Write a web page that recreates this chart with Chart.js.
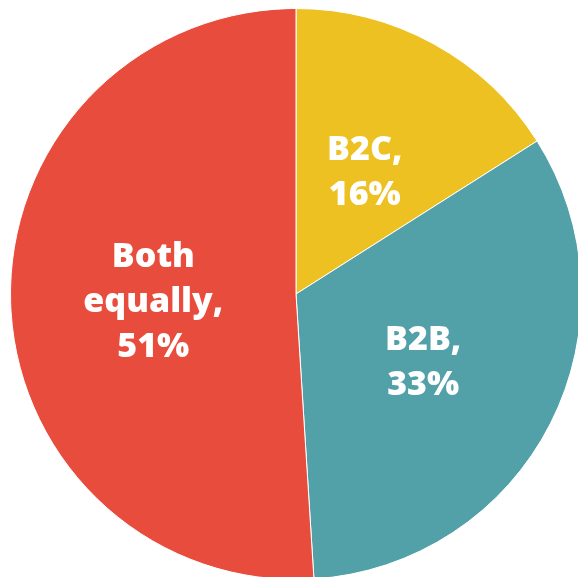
<!DOCTYPE html>
<html>
<head>
<meta charset="utf-8">
<script src="https://cdn.jsdelivr.net/npm/chart.js@4/dist/chart.umd.min.js"></script>
<style>
  html, body { margin: 0; padding: 0; background: #ffffff; overflow: hidden; }
  #wrap { position: absolute; left: 0; top: 0; width: 600px; height: 600px; }
</style>
</head>
<body>
<div id="wrap"><canvas id="chart" width="600" height="600"></canvas></div>
<script>
// Share of businesses by customer focus
const categories = ['B2C', 'B2B', 'Both equally'];
const shares = [16, 33, 51];
const labelLines = [['B2C,'], ['B2B,'], ['Both', 'equally,']];
const sliceColors = ['#EEC122', '#52A1A8', '#E84C3D'];

// Writes each slice's name and share inside the slice
const sliceLabels = {
  id: 'sliceLabels',
  afterDatasetsDraw(chart) {
    const ctx = chart.ctx;
    const meta = chart.getDatasetMeta(0);
    ctx.save();
    ctx.fillStyle = '#ffffff';
    ctx.font = '800 34px "Open Sans", Roboto, sans-serif';
    ctx.textAlign = 'center';
    ctx.textBaseline = 'middle';
    const lineH = 45;
    meta.data.forEach((arc, i) => {
      const p = arc.getCenterPoint();
      const lines = labelLines[i].concat([shares[i] + '%']);
      const top = p.y + 4 - (lines.length - 1) * lineH / 2;
      lines.forEach((t, k) => ctx.fillText(t, p.x, top + k * lineH));
    });
    ctx.restore();
  }
};

new Chart(document.getElementById('chart'), {
  type: 'pie',
  data: {
    labels: categories,
    datasets: [{
      data: shares,
      backgroundColor: sliceColors,
      borderColor: '#ffffff',
      borderWidth: 1
    }]
  },
  options: {
    responsive: false,
    animation: false,
    layout: { padding: { left: 10, right: 18, top: 8, bottom: 20 } },
    plugins: { legend: { display: false }, tooltip: { enabled: false } }
  },
  plugins: [sliceLabels]
});
</script>
</body>
</html>
